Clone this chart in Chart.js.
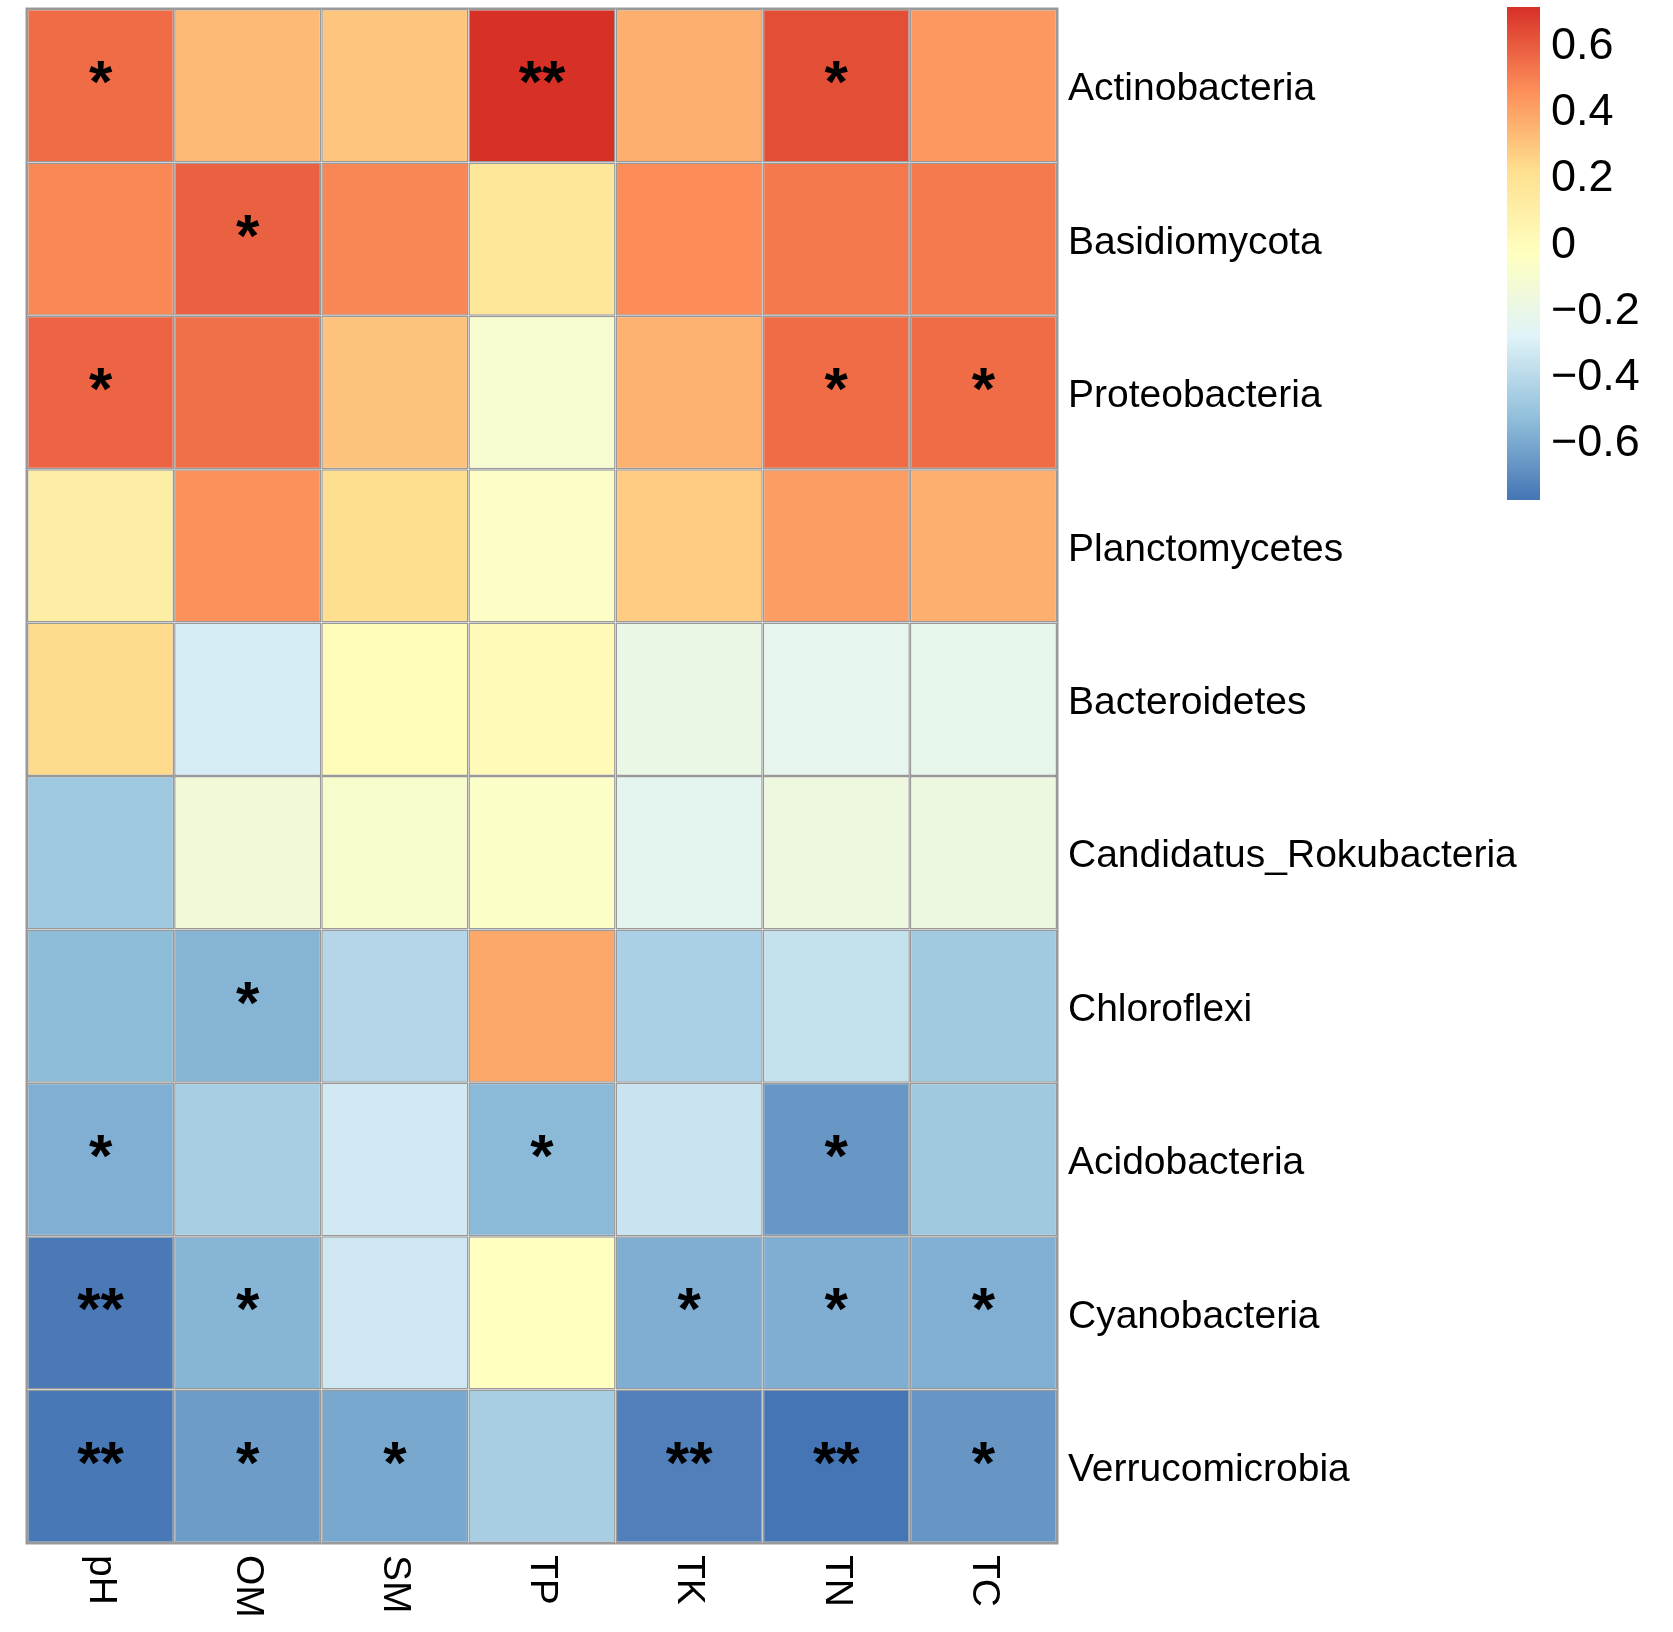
<!DOCTYPE html>
<html>
<head>
<meta charset="utf-8">
<title>Phylum vs soil factor correlation</title>
<script src="https://cdn.jsdelivr.net/npm/chart.js@4.4.1/dist/chart.umd.min.js"></script>
<style>
  html, body { margin: 0; padding: 0; background: #fff; }
  #wrap { position: relative; width: 1673px; height: 1632px; }
  #heat { position: absolute; left: 0; top: 0; }
  #bar { position: absolute; left: 1507px; top: 0; }
</style>
</head>
<body>
<div id="wrap">
  <canvas id="heat" width="1673" height="1632"></canvas>
  <canvas id="bar" width="166" height="512"></canvas>
</div>
<script>
// Rows (phyla) and columns (soil factors)
const taxa = ['Actinobacteria', 'Basidiomycota', 'Proteobacteria', 'Planctomycetes', 'Bacteroidetes',
    'Candidatus_Rokubacteria', 'Chloroflexi', 'Acidobacteria', 'Cyanobacteria', 'Verrucomicrobia'];
const factors = ['pH', 'OM', 'SM', 'TP', 'TK', 'TN', 'TC'];

// Correlation coefficients, one row per phylum
const corr = [
    [0.56, 0.34, 0.305, 0.72, 0.37, 0.64, 0.44],
    [0.485, 0.59, 0.49, 0.165, 0.475, 0.525, 0.52],
    [0.58, 0.55, 0.31, -0.10, 0.36, 0.56, 0.56],
    [0.12, 0.46, 0.23, -0.05, 0.28, 0.42, 0.37],
    [0.24, -0.305, 0.01, 0.015, -0.19, -0.225, -0.215],
    [-0.48, -0.14, -0.08, -0.055, -0.24, -0.16, -0.17],
    [-0.53, -0.56, -0.41, 0.39, -0.44, -0.36, -0.47],
    [-0.575, -0.45, -0.32, -0.54, -0.345, -0.655, -0.475],
    [-0.755, -0.555, -0.33, -0.03, -0.58, -0.58, -0.575],
    [-0.76, -0.64, -0.60, -0.45, -0.735, -0.77, -0.66]
];

// Significance marks
const stars = [
    ['*', '', '', '**', '', '*', ''],
    ['', '*', '', '', '', '', ''],
    ['*', '', '', '', '', '*', '*'],
    ['', '', '', '', '', '', ''],
    ['', '', '', '', '', '', ''],
    ['', '', '', '', '', '', ''],
    ['', '*', '', '', '', '', ''],
    ['*', '', '', '*', '', '*', ''],
    ['**', '*', '', '', '*', '*', '*'],
    ['**', '*', '*', '', '**', '**', '*']
];

// Colour key range and ticks
const scaleMin = -0.77;
const scaleMax = 0.72;
const legendTicks = [-0.6, -0.4, -0.2, 0, 0.2, 0.4, 0.6];

// rev(RdYlBu, 7)
const palette = ['#4575B4', '#91BFDB', '#E0F3F8', '#FFFFBF', '#FEE090', '#FC8D59', '#D73027'];
const FONT = '"Liberation Sans", Arial, sans-serif';

function hexToRgb(h) {
    const n = parseInt(h.slice(1), 16);
    return [(n >> 16) & 255, (n >> 8) & 255, n & 255];
}

function colorFor(v) {
    let t = (v - scaleMin) / (scaleMax - scaleMin);
    t = Math.min(1, Math.max(0, t));
    const pos = t * (palette.length - 1);
    const i = Math.min(Math.floor(pos), palette.length - 2);
    const f = pos - i;
    const a = hexToRgb(palette[i]);
    const b = hexToRgb(palette[i + 1]);
    const c = a.map((x, k) => Math.round(x + (b[k] - x) * f));
    return `rgb(${c[0]}, ${c[1]}, ${c[2]})`;
}

// axis labels sit well inside the range, so drop the half-label padding
function fixAxis(width) {
    return axis => {
        axis.width = width;
        axis.paddingTop = 0;
        axis.paddingBottom = 0;
    };
}

// stars in cells, rotated column labels and the outer frame
const cellText = {
    id: 'cellText',
    afterDatasetsDraw(chart) {
        const { ctx, chartArea, scales: { x, y } } = chart;
        ctx.save();
        ctx.strokeStyle = '#999999';
        ctx.lineWidth = 1.5;
        ctx.strokeRect(chartArea.left - 0.75, chartArea.top - 0.75, chartArea.width + 1.5, chartArea.height + 1.5);

        ctx.fillStyle = '#000';
        ctx.font = `bold 60px ${FONT}`;
        ctx.textAlign = 'center';
        ctx.textBaseline = 'middle';
        stars.forEach((row, r) => row.forEach((s, c) => {
            if (s) ctx.fillText(s, x.getPixelForValue(c), y.getPixelForValue(r + 0.5));
        }));

        ctx.font = `39px ${FONT}`;
        ctx.textAlign = 'left';
        factors.forEach((f, c) => {
            ctx.save();
            ctx.translate(x.getPixelForValue(c), chartArea.bottom + 12);
            ctx.rotate(Math.PI / 2);
            ctx.fillText(f, 0, 0);
            ctx.restore();
        });
        ctx.restore();
    }
};

new Chart(document.getElementById('heat'), {
    type: 'bar',
    data: {
        labels: factors,
        datasets: taxa.map((name, r) => ({
            label: name,
            data: factors.map(() => [r, r + 1]),
            backgroundColor: corr[r].map(colorFor),
            borderColor: '#999999',
            borderWidth: 1.5,
            borderSkipped: false,
            inflateAmount: 0,
            barPercentage: 1,
            categoryPercentage: 1,
            grouped: false
        }))
    },
    options: {
        responsive: false,
        animation: false,
        layout: { padding: { left: 27, top: 9, right: 0, bottom: 89 } },
        plugins: { legend: { display: false }, tooltip: { enabled: false } },
        scales: {
            x: { type: 'category', display: false },
            y: {
                type: 'linear',
                min: 0,
                max: 10,
                reverse: true,
                position: 'right',
                afterBuildTicks: axis => { axis.ticks = taxa.map((_, i) => ({ value: i + 0.5 })); },
                afterFit: fixAxis(616),
                grid: { display: false, drawTicks: false },
                border: { display: false },
                ticks: {
                    autoSkip: false,
                    padding: 11,
                    labelOffset: 4,
                    color: '#000',
                    font: { family: FONT, size: 39 },
                    callback: (v, i) => taxa[i]
                }
            }
        }
    },
    plugins: [cellText]
});

// Colour key
new Chart(document.getElementById('bar'), {
    type: 'bar',
    data: {
        labels: [''],
        datasets: [{
            data: [[scaleMin, scaleMax]],
            backgroundColor: (ctx) => {
                const area = ctx.chart.chartArea;
                if (!area) return palette[3];
                const g = ctx.chart.ctx.createLinearGradient(0, area.bottom, 0, area.top);
                palette.forEach((c, i) => g.addColorStop(i / (palette.length - 1), c));
                return g;
            },
            borderWidth: 0,
            inflateAmount: 0,
            barPercentage: 1,
            categoryPercentage: 1
        }]
    },
    options: {
        responsive: false,
        animation: false,
        layout: { padding: { left: 0, top: 7, right: 0, bottom: 12 } },
        plugins: { legend: { display: false }, tooltip: { enabled: false } },
        scales: {
            x: { display: false },
            y: {
                type: 'linear',
                min: scaleMin,
                max: scaleMax,
                position: 'right',
                afterBuildTicks: axis => { axis.ticks = legendTicks.map(v => ({ value: v })); },
                afterFit: fixAxis(133),
                grid: { display: false, drawTicks: false },
                border: { display: false },
                ticks: {
                    autoSkip: false,
                    padding: 11,
                    color: '#000',
                    font: { family: FONT, size: 45 },
                    callback: v => v === 0 ? '0' : (v < 0 ? '\u2212' : '') + Math.abs(v).toFixed(1)
                }
            }
        }
    }
});
</script>
</body>
</html>
